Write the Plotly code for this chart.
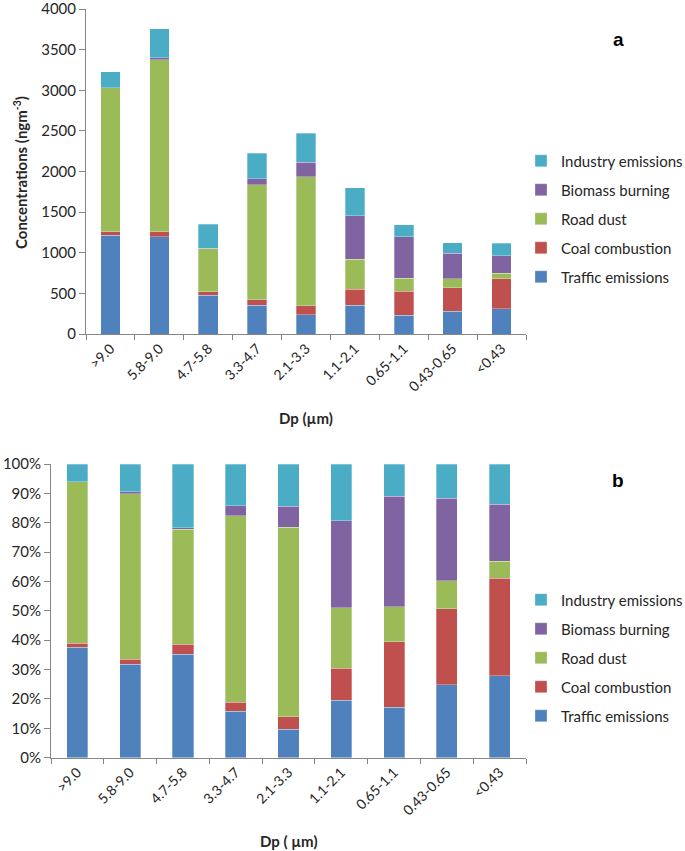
import numpy as np
import plotly.graph_objects as go

categories = [">9.0", "5.8-9.0", "4.7-5.8", "3.3-4.7", "2.1-3.3", "1.1-2.1", "0.65-1.1", "0.43-0.65", "<0.43"]

traffic = [1215, 1194, 476, 353, 238, 353, 230, 279, 312]
coal = [45, 66, 45, 66, 107, 197, 299, 291, 369]
road_dust = [1772, 2113, 529, 1415, 1592, 369, 160, 107, 66]
biomass = [0, 28, 7, 74, 176, 534, 505, 316, 217]
industry = [197, 353, 293, 316, 357, 348, 148, 131, 152]

series_names = ["Traffic emissions", "Coal combustion", "Road dust", "Biomass burning", "Industry emissions"]
series_values = [traffic, coal, road_dust, biomass, industry]
colors = ["#4F81BD", "#C0504D", "#9BBB59", "#8064A2", "#4BACC6"]

W, H = 685, 851
FONT = "Lato"
TXT = "#262626"
AX = "#868686"

totals = np.sum(np.array(series_values, dtype=float), axis=0)
n = len(series_names)

fig = go.Figure()
for i, (name, vals, col) in enumerate(zip(series_names, series_values, colors)):
    fig.add_trace(go.Bar(x=categories, y=vals, name=name,
                         marker=dict(color=col, line=dict(color="rgba(255,255,255,0.6)", width=0.5)),
                         xaxis="x", yaxis="y", legend="legend", legendgroup="a" + name, legendrank=n - i))
for i, (name, vals, col) in enumerate(zip(series_names, series_values, colors)):
    pct = np.array(vals, dtype=float) / totals * 100
    fig.add_trace(go.Bar(x=categories, y=pct, name=name,
                         marker=dict(color=col, line=dict(color="rgba(255,255,255,0.6)", width=0.5)),
                         xaxis="x2", yaxis="y2", legend="legend2", legendgroup="b" + name, legendrank=n - i))

def px(x):
    return x / W

def py(y):
    return 1 - y / H

xcommon = dict(type="category", showgrid=False, showline=True, linecolor=AX, linewidth=1, automargin=False,
               ticks="outside", tickson="boundaries", ticklen=5, tickcolor=AX, tickangle=-45,
               ticklabeloverflow="allow", tickfont=dict(family=FONT, size=14, color=TXT))
ycommon = dict(showgrid=False, showline=True, linecolor=AX, linewidth=1, ticks="outside", automargin=False,
               ticklen=6, tickcolor=AX, ticklabeloverflow="allow",
               tickfont=dict(family=FONT, size=15, color=TXT), zeroline=False)

legend_common = dict(traceorder="grouped", tracegroupgap=6.5, font=dict(family=FONT, size=15, color=TXT),
                     bgcolor="rgba(0,0,0,0)", xanchor="left", yanchor="middle", itemwidth=30)

ann_font = dict(family=FONT, size=15, color=TXT)

fig.update_layout(
    width=W, height=H,
    margin=dict(l=0, r=0, t=0, b=0, autoexpand=False),
    paper_bgcolor="white", plot_bgcolor="white",
    barmode="stack", bargap=0.6,
    font=dict(family=FONT, color=TXT),
    xaxis=dict(domain=[px(86), px(526)], anchor="y", **xcommon),
    yaxis=dict(domain=[py(334), py(9)], anchor="x", range=[0, 4000], dtick=500, tickformat="d", **ycommon),
    xaxis2=dict(domain=[px(51), px(526)], anchor="y2", **xcommon),
    yaxis2=dict(domain=[py(757.7), py(464)], anchor="x2", range=[0, 100], dtick=10, ticksuffix="%", **ycommon),
    legend=dict(x=px(521), y=py(219), **legend_common),
    legend2=dict(x=px(521), y=py(658), **legend_common),
    annotations=[
        dict(text="<b>Concentrations (ngm<sup>-3</sup>)</b>", x=px(21), y=py(173), xref="paper", yref="paper",
             xanchor="center", yanchor="middle", textangle=-90, showarrow=False, font=ann_font),
        dict(text="<b>Dp (µm)</b>", x=px(306), y=py(418), xref="paper", yref="paper", showarrow=False,
             xanchor="center", yanchor="middle", font=ann_font),
        dict(text="<b>Dp ( µm)</b>", x=px(289), y=py(841), xref="paper", yref="paper", showarrow=False,
             xanchor="center", yanchor="middle", font=ann_font),
        dict(text="<b>a</b>", x=px(618), y=py(40), xref="paper", yref="paper", showarrow=False,
             xanchor="center", yanchor="middle", font=dict(family="Liberation Sans", size=19, color="black")),
        dict(text="<b>b</b>", x=px(618), y=py(481), xref="paper", yref="paper", showarrow=False,
             xanchor="center", yanchor="middle", font=dict(family="Liberation Sans", size=19, color="black")),
    ],
)

fig.write_html("out.html", config={"displayModeBar": False},
               post_script="document.body.style.margin='0px';")
